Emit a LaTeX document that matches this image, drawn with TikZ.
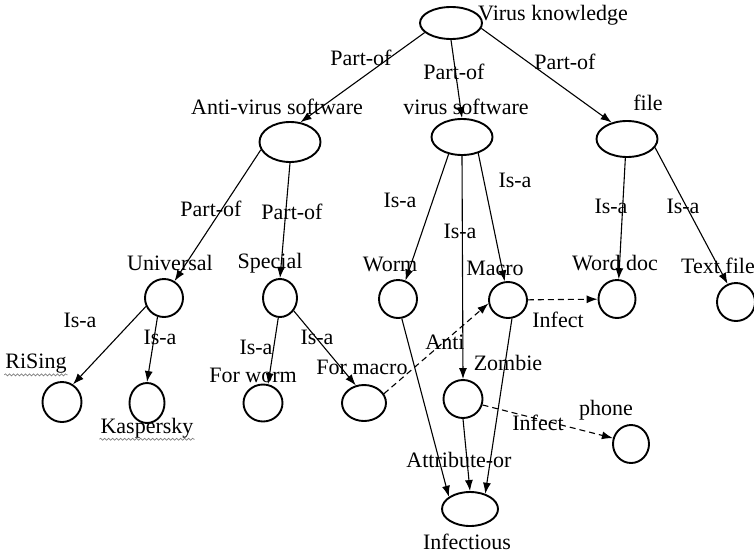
\documentclass[tikz,border=0pt]{standalone}
\usepackage{fontspec}
\setmainfont{Liberation Serif}
\usetikzlibrary{arrows.meta,shapes.geometric,decorations.pathmorphing}

\tikzset{
  obj/.style={draw,ellipse,line width=1.9pt,minimum width=38pt,minimum height=38pt,inner sep=0pt},
  lbl/.style={inner sep=1pt},
  rel/.style={->,line width=1.1pt},
  infect/.style={rel,dash pattern=on 6pt off 4pt},
  squig/.style={gray,line width=0.6pt,decorate,decoration={snake,amplitude=1pt,segment length=4pt}}
}

\begin{document}
\begin{tikzpicture}[x=1pt,y=-1pt,>={Latex[length=11pt,width=8pt]},font=\fontsize{22}{24}\selectfont]
\useasboundingbox (0,0) rectangle (754,554);
% concept nodes
\node[obj,minimum width=62pt,minimum height=32pt] (vk) at (451,23){};
\node[obj,minimum width=61pt,minimum height=40pt] (avs) at (290,142){};
\node[obj,minimum width=61pt,minimum height=36pt] (vs) at (462,137){};
\node[obj,minimum width=61pt,minimum height=36pt] (file) at (627,139){};
\node[obj] (uni) at (164,298){};
\node[obj,minimum width=34pt] (spe) at (280,298){};
\node[obj] (worm) at (398,299){};
\node[obj,minimum height=36pt] (mac) at (508,300){};
\node[obj,minimum width=37pt] (wd) at (617,299){};
\node[obj] (tf) at (736,302){};
\node[obj,minimum width=39pt,minimum height=40pt] (ris) at (62,402){};
\node[obj,minimum width=35pt,minimum height=40pt] (kas) at (147,403){};
\node[obj,minimum width=39pt,minimum height=37pt] (fw) at (263,403){};
\node[obj,minimum width=44pt,minimum height=36pt] (fm) at (364,403){};
\node[obj,minimum width=39pt] (zom) at (463,399){};
\node[obj,minimum width=36pt] (ph) at (631,444){};
\node[obj,minimum width=56pt,minimum height=34pt] (inf) at (470,509){};
% names of the nodes
\node[lbl,anchor=west] (vkT) at (477,15){Virus knowledge};
\node[lbl] (avsT) at (277,107){Anti-virus software};
\node[lbl] (vsT) at (466,107){virus software};
\node[lbl] (fileT) at (648,103){file};
\node[lbl] (uniT) at (170,263){Universal};
\node[lbl] (speT) at (270,263){Special};
\node[lbl] (wormT) at (390,264){Worm};
\node[lbl] (macT) at (495,268){Macro};
\node[lbl] (wdT) at (615,263){Word doc};
\node[lbl] (tfT) at (718,266){Text file};
\node[lbl] (risT) at (36,364){RiSing};
\node[lbl] (kasT) at (147,428){Kaspersky};
\node[lbl] (fwT) at (253,375){For worm};
\node[lbl] (fmT) at (362,367){For macro};
\node[lbl] (zomT) at (508,363){Zombie};
\node[lbl] (phT) at (606,410){phone};
\node[lbl] (infT) at (467,542){Infectious};
\draw[squig] (risT.south west) -- (risT.south east);
\draw[squig] (kasT.south west) -- (kasT.south east);
% relations
\draw[rel] (vk.200) -- (avs.62);
\draw[rel] (vk.south) -- (vs.north);
\draw[rel] (vk.-10) -- (file.133);
\draw[rel] (avs.195) -- (uni.58);
\draw[rel] (avs.south) -- (spe.north);
\draw[rel] (vs.232) -- (worm.68);
\draw[rel] (vs.south) -- (zom.north);
\draw[rel] (vs.-45) -- (mac.100);
\draw[rel] (file.265) -- (wd.85);
\draw[rel] (file.-17) -- (tf.115);
\draw[rel] (uni.205) -- (ris.58);
\draw[rel] (uni.251) -- (kas.north);
\draw[rel] (spe.265) -- (fw.75);
\draw[rel] (spe.-43) -- (fm.115);
\draw[rel] (worm.-79) -- (inf.150);
\draw[rel] (zom.south) -- (inf.north);
\draw[rel] (mac.-78) -- (inf.45);
\draw[infect] (fm.25) -- (mac.190);
\draw[infect] (mac) -- (wd);
\draw[infect] (zom.-17) -- (ph.162);
% relation labels
\node[lbl] (l1) at (361,58){Part-of};
\node[lbl] (l2) at (454,72){Part-of};
\node[lbl] (l3) at (565,62){Part-of};
\node[lbl] (l4) at (211,209){Part-of};
\node[lbl] (l5) at (292,212){Part-of};
\node[lbl] (l6) at (400,200){Is-a};
\node[lbl] (l7) at (460,231){Is-a};
\node[lbl] (l8) at (515,180){Is-a};
\node[lbl] (l9) at (611,206){Is-a};
\node[lbl] (l10) at (683,206){Is-a};
\node[lbl] (l11) at (80,320){Is-a};
\node[lbl] (l12) at (160,337){Is-a};
\node[lbl] (l13) at (256,347){Is-a};
\node[lbl] (l14) at (317,337){Is-a};
\node[lbl] (l15) at (445,342){Anti};
\node[lbl] (l16) at (558,320){Infect};
\node[lbl] (l17) at (538,423){Infect};
\node[lbl] (l18) at (459,460){Attribute-or};
\end{tikzpicture}
\end{document}
